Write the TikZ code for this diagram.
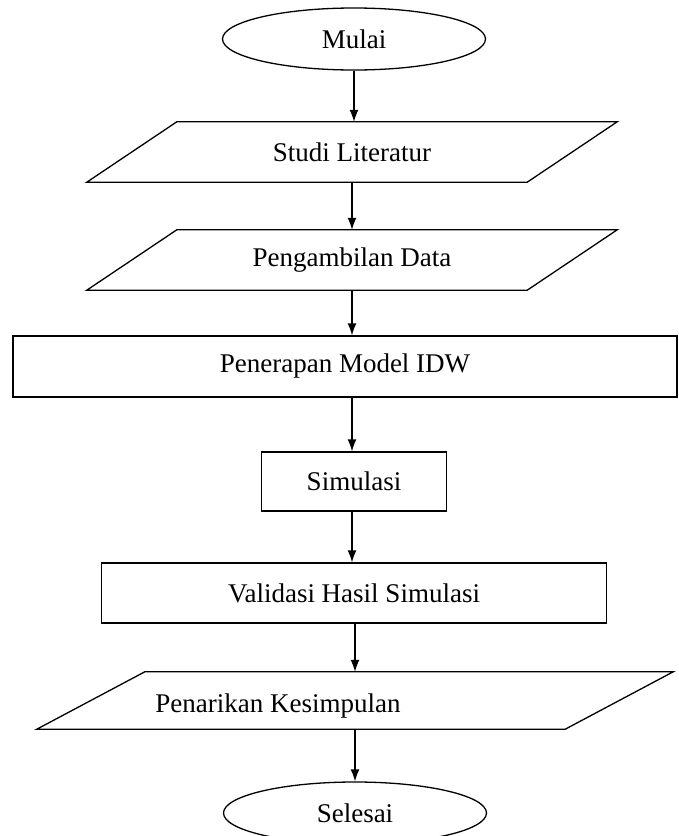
\documentclass[tikz,border=0pt]{standalone}
\usepackage{fontspec}
\setmainfont{Liberation Serif}
\usetikzlibrary{shapes.geometric,arrows.meta,calc}

% slanted outline round a rectangle node: #1 node, #2 shift of the top edge
\newcommand{\slantbox}[2]{%
  \draw [line width=1.3pt] ($(#1.north west)+(#2,0)$) -- ($(#1.north east)+(#2,0)$)
    -- ($(#1.south east)-(#2,0)$) -- ($(#1.south west)-(#2,0)$) -- cycle;}

\begin{document}
\begin{tikzpicture}[x=1pt,y=-1pt]
\tikzstyle{terminal}=[draw,line width=1.3pt,ellipse,inner sep=0pt,minimum width=263pt,minimum height=62pt]
\tikzstyle{io}=[rectangle,inner sep=0pt,minimum height=60pt]
\tikzstyle{process}=[draw,line width=1.3pt,rectangle,inner sep=0pt,minimum height=60pt]
\tikzstyle{arr}=[line width=1.3pt,-{Latex[length=12pt,width=9pt]}]

\useasboundingbox (0,0) rectangle (679,836);
\fontsize{27}{30}\selectfont

\node (mulai) [terminal] at (354,39) {Mulai};
\node (studi) [io, minimum width=440pt] at (352,152) {Studi Literatur};
\node (data) [io, minimum width=440pt] at (352,260) {Pengambilan Data};
\node (idw) [process, minimum width=664pt, minimum height=61pt] at (345,366.5) {Penerapan Model IDW};
\node (sim) [process, minimum width=185pt, minimum height=59pt] at (354,481.5) {Simulasi};
\node (valid) [process, minimum width=505pt] at (354,593) {Validasi Hasil Simulasi};
\node (simpul) [io, minimum width=528pt, minimum height=57pt] at (355,700.5) {};
\node (simpultxt) [xshift=-77pt, yshift=-5pt] at (simpul.center) {Penarikan Kesimpulan};
\node (selesai) [terminal] at (355,813) {Selesai};

\slantbox{studi}{45pt}
\slantbox{data}{45pt}
\slantbox{simpul}{54pt}

\draw [arr] (mulai.south) -- (mulai.south |- studi.north);
\draw [arr] (studi.south) -- (studi.south |- data.north);
\draw [arr] (data.south) -- (data.south |- idw.north);
\draw [arr] (data.south |- idw.south) -- (data.south |- sim.north);
\draw [arr] (data.south |- sim.south) -- (data.south |- valid.north);
\draw [arr] (simpul.north |- valid.south) -- (simpul.north);
\draw [arr] (simpul.south) -- (selesai.north);

\end{tikzpicture}
\end{document}
